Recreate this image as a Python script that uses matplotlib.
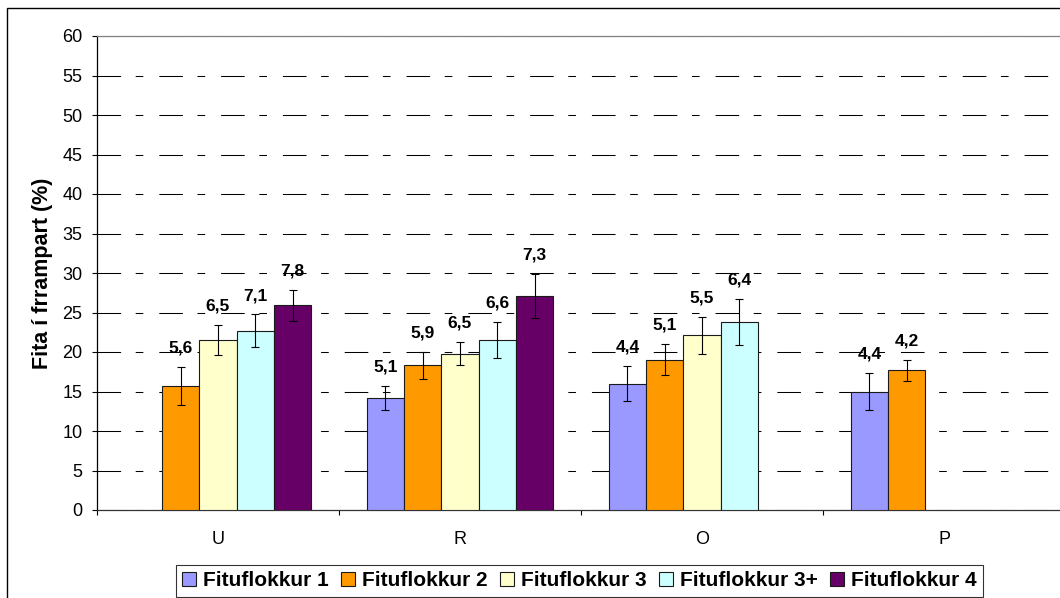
import numpy as np
import matplotlib
matplotlib.use("Agg")
import matplotlib.pyplot as plt
import matplotlib.patches as mpatches

plt.rcParams['font.family'] = ['Liberation Sans', 'DejaVu Sans']
plt.rcParams['lines.scale_dashes'] = False

# Gögn (lesin af myndinni)
categories = ["U", "R", "O", "P"]
series_names = ["Fituflokkur 1", "Fituflokkur 2", "Fituflokkur 3",
                "Fituflokkur 3+", "Fituflokkur 4"]
colors = ["#9999FF", "#FF9900", "#FFFFCC", "#CCFFFF", "#660066"]

nan = np.nan
values = [
    [nan, 14.2, 16.0, 15.0],
    [15.7, 18.3, 19.05, 17.7],
    [21.5, 19.8, 22.1, nan],
    [22.7, 21.5, 23.8, nan],
    [25.9, 27.1, nan, nan],
]
errors = [
    [nan, 1.55, 2.25, 2.3],
    [2.45, 1.7, 2.0, 1.35],
    [1.9, 1.5, 2.3, nan],
    [2.05, 2.3, 2.95, nan],
    [1.95, 2.75, nan, nan],
]
labels = [
    ["", "5,1", "4,4", "4,4"],
    ["5,6", "5,9", "5,1", "4,2"],
    ["6,5", "6,5", "5,5", ""],
    ["7,1", "6,6", "6,4", ""],
    ["7,8", "7,3", "", ""],
]

W, H = 1060, 598
fig = plt.figure(figsize=(W / 100, H / 100), dpi=100)

# ramminn utan um allt grafið (hægri og neðri brún utan myndar)
fig.patches.append(mpatches.Rectangle((7 / W, -0.2), 1.2, 1.2 - 8 / H,
                                      transform=fig.transFigure, fill=False,
                                      edgecolor="black", linewidth=1.0))

ax = fig.add_axes([97 / W, 1 - 510 / H, 968 / W, 474 / H])

x = np.arange(len(categories))
bw = 0.154
n = len(series_names)

for i in range(n):
    xs = x + (i - (n - 1) / 2) * bw
    v = np.array(values[i])
    e = np.array(errors[i])
    ax.bar(xs, v, width=bw, color=colors[i], edgecolor="#1a1a1a",
           linewidth=0.8, zorder=3, label=series_names[i])
    ax.errorbar(xs, v, yerr=e, fmt="none", ecolor="black", elinewidth=0.8,
                capsize=3.2, capthick=0.8, zorder=4)
    for j in range(len(categories)):
        if np.isnan(v[j]):
            continue
        ax.text(xs[j], v[j] + e[j] + 2.4, labels[i][j], ha="center",
                va="center", fontsize=12.5, fontweight="bold", zorder=5)

ax.set_xlim(-0.5, 3.5)
ax.set_ylim(0, 60)
ax.set_yticks(np.arange(0, 61, 5))
ax.set_xticks(x)
ax.set_xticklabels(categories)
ax.set_xticks(np.arange(-0.5, 3.6, 1), minor=True)

ax.tick_params(axis="y", direction="out", length=3.6, width=0.8,
               labelsize=13, pad=7)
ax.tick_params(axis="x", which="major", length=0, labelsize=13, pad=15)
ax.tick_params(axis="x", which="minor", direction="out", length=3.6, width=0.8)

ax.yaxis.grid(True, color="black", linewidth=0.75,
              linestyle=(0, (17, 10.5, 5.5, 11.5)), zorder=0)

ax.spines["left"].set_color("black")
ax.spines["left"].set_linewidth(0.9)
ax.spines["bottom"].set_color("#333333")
ax.spines["bottom"].set_linewidth(0.9)
ax.spines["top"].set_color("#808080")
ax.spines["top"].set_linewidth(0.9)
ax.spines["right"].set_visible(False)

fig.text(43 / W, 1 - 273 / H, "Fita í frrampart (%)", rotation=90,
         ha="center", va="center", fontsize=15.5, fontweight="bold")

leg = fig.legend(loc="upper center", bbox_to_anchor=(579.5 / W, 1 - 565 / H),
                 ncol=5, fontsize=15, frameon=True, fancybox=False,
                 edgecolor="black", handlelength=0.65, handleheight=0.65,
                 handletextpad=0.35, columnspacing=0.6, borderpad=0.3,
                 borderaxespad=0)
leg.get_frame().set_linewidth(0.8)
for t in leg.get_texts():
    t.set_fontweight("bold")
for p in leg.legend_handles:
    p.set_edgecolor("#1a1a1a")
    p.set_linewidth(0.8)

fig.savefig("out.png", dpi=100)
